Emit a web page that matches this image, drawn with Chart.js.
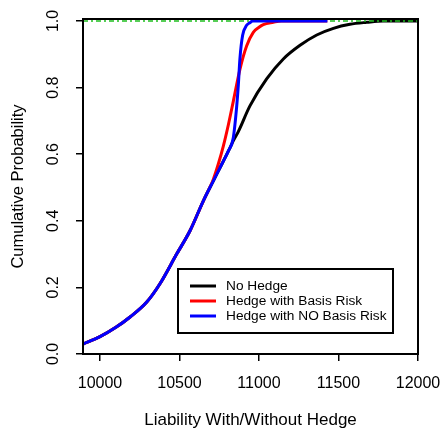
<!DOCTYPE html>
<html>
<head>
<meta charset="utf-8">
<script src="https://cdn.jsdelivr.net/npm/chart.js@4"></script>
<style>body{margin:0;background:#fff}</style>
</head>
<body>
<canvas id="myChart" width="443" height="432"></canvas>
<script>
// values
const noHedgeX = [9893, 10000, 10100, 10189, 10294, 10377, 10482, 10566, 10650, 10713, 10765, 10807, 10838, 10870, 10943, 11048, 11153, 11258, 11363, 11468, 11572, 11677, 11780, 12000]
const noHedgeY = [0.030, 0.052, 0.080, 0.111, 0.156, 0.211, 0.300, 0.370, 0.460, 0.520, 0.569, 0.609, 0.640, 0.668, 0.745, 0.826, 0.886, 0.927, 0.958, 0.978, 0.990, 0.996, 1.000, 1.000]

const basisX = [9893, 10000, 10100, 10189, 10294, 10377, 10482, 10566, 10650, 10713, 10745, 10776, 10808, 10838, 10880, 10922, 10964, 11000, 11027, 11090, 11140, 11430]
const basisY = [0.030, 0.052, 0.080, 0.111, 0.156, 0.211, 0.300, 0.370, 0.460, 0.525, 0.572, 0.625, 0.690, 0.758, 0.855, 0.925, 0.966, 0.981, 0.989, 0.996, 1.000, 1.000]

const noBasisX = [9893, 10000, 10100, 10189, 10294, 10377, 10482, 10566, 10650, 10713, 10765, 10807, 10838, 10859, 10870, 10880, 10897, 10922, 10943, 10960, 11430]
const noBasisY = [0.030, 0.052, 0.080, 0.111, 0.156, 0.211, 0.300, 0.370, 0.460, 0.520, 0.569, 0.609, 0.649, 0.740, 0.808, 0.887, 0.957, 0.987, 0.995, 1.000, 1.000]

const refLineX = [9893, 12000]
const refLineY = [1, 1]

const xTicks = [10000, 10500, 11000, 11500, 12000]
const yTicks = [0, 0.2, 0.4, 0.6, 0.8, 1.0]

const seriesNames = ['No Hedge', 'Hedge with Basis Risk', 'Hedge with NO Basis Risk']
const seriesColors = ['#000000', '#ff0000', '#0000ff']

const FONT = '"Liberation Sans", Arial, sans-serif'

const toPoints = (xs, ys) => xs.map((x, i) => ({ x: x, y: ys[i] }))

function curve(label, color, xs, ys, order) {
  return {
    label: label,
    data: toPoints(xs, ys),
    borderColor: color,
    borderWidth: 3,
    pointRadius: 0,
    cubicInterpolationMode: 'monotone',
    fill: false,
    order: order
  }
}

// box, rotated y labels and the legend
const framePlugin = {
  id: 'frame',
  afterDatasetsDraw(chart) {
    const { ctx, chartArea: a, scales } = chart
    ctx.save()
    ctx.strokeStyle = '#000'
    ctx.lineWidth = 2
    ctx.strokeRect(a.left, a.top, a.right - a.left, a.bottom - a.top)

    ctx.fillStyle = '#000'
    ctx.font = '16px ' + FONT
    ctx.textAlign = 'center'
    ctx.textBaseline = 'middle'
    yTicks.forEach(v => {
      ctx.save()
      ctx.translate(a.left - 29, scales.y.getPixelForValue(v))
      ctx.rotate(-Math.PI / 2)
      ctx.fillText(v.toFixed(1), 0, 0)
      ctx.restore()
    })

    const lx = a.left + 95
    const ly = a.top + 250
    ctx.lineWidth = 2
    ctx.strokeRect(lx, ly, 215, 64)
    ctx.font = '13.7px ' + FONT
    ctx.textAlign = 'left'
    seriesNames.forEach((name, i) => {
      const yy = ly + 17 + i * 15
      ctx.strokeStyle = seriesColors[i]
      ctx.lineWidth = 3
      ctx.beginPath()
      ctx.moveTo(lx + 12, yy)
      ctx.lineTo(lx + 38, yy)
      ctx.stroke()
      ctx.fillText(name, lx + 48, yy)
    })
    ctx.restore()
  }
}

new Chart(document.getElementById('myChart'), {
  type: 'line',
  data: {
    datasets: [
      curve(seriesNames[2], seriesColors[2], noBasisX, noBasisY, 1),
      curve(seriesNames[1], seriesColors[1], basisX, basisY, 2),
      {
        label: 'ref',
        data: toPoints(refLineX, refLineY),
        borderColor: '#1fbf1f',
        borderWidth: 1.6,
        borderDash: [5, 3, 2, 3],
        pointRadius: 0,
        order: 3
      },
      curve(seriesNames[0], seriesColors[0], noHedgeX, noHedgeY, 4)
    ]
  },
  options: {
    responsive: false,
    animation: false,
    layout: { padding: { top: 19, right: 25, left: 0, bottom: 0 } },
    plugins: { legend: { display: false }, tooltip: { enabled: false } },
    scales: {
      x: {
        type: 'linear',
        min: 9893,
        max: 12000,
        afterBuildTicks: s => { s.ticks = xTicks.map(v => ({ value: v })) },
        afterFit: s => { s.height = 78; s.paddingLeft = 0; s.paddingRight = 0 },
        border: { display: false },
        grid: { drawOnChartArea: false, drawTicks: true, tickLength: 7, color: '#000', lineWidth: 1.5 },
        ticks: { color: '#000', font: { family: FONT, size: 16 }, padding: 13, maxRotation: 0, callback: v => String(v) },
        title: { display: true, text: 'Liability With/Without Hedge', color: '#000', font: { family: FONT, size: 17 }, padding: { top: 0, bottom: 1 } }
      },
      y: {
        type: 'linear',
        min: 0,
        max: 1.006,
        afterBuildTicks: s => { s.ticks = yTicks.map(v => ({ value: v })) },
        afterFit: s => { s.width = 83 },
        border: { display: false },
        grid: { drawOnChartArea: false, drawTicks: true, tickLength: 7, color: '#000', lineWidth: 1.5 },
        ticks: { display: false },
        title: { display: true, text: 'Cumulative Probability', color: '#000', font: { family: FONT, size: 16.5 }, padding: { top: 9, bottom: 0 } }
      }
    }
  },
  plugins: [framePlugin]
})
</script>
</body>
</html>
